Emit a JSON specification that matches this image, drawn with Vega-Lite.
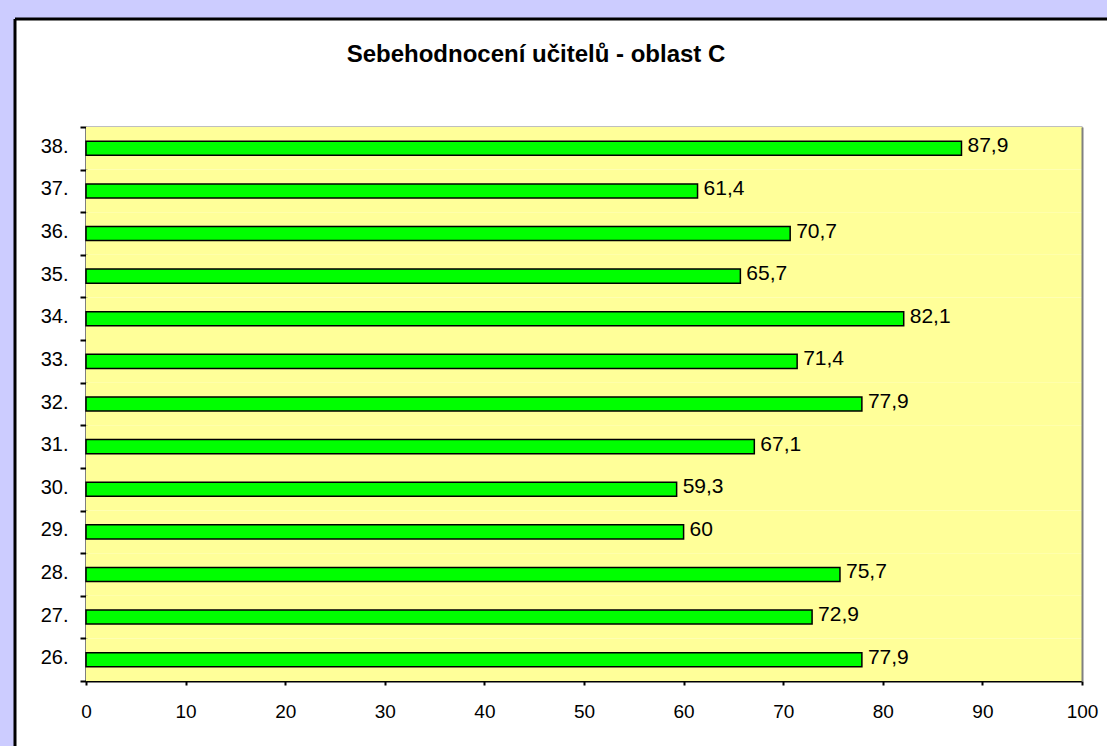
{
  "$schema": "https://vega.github.io/schema/vega-lite/v6.json",
  "usermeta": {"embedOptions": {"actions": false}},
  "autosize": "none",
  "width": 1092,
  "height": 727,
  "padding": {"left": 15, "top": 19, "right": 0, "bottom": 0},
  "background": "#ccccff",
  "title": {
    "text": "Sebehodnocení učitelů - oblast C",
    "font": "Liberation Sans",
    "fontSize": 24,
    "fontWeight": "bold",
    "color": "black",
    "anchor": "middle",
    "frame": "group",
    "baseline": "alphabetic",
    "offset": -77,
    "dx": -25
  },
  "config": {
    "locale": {"number": {"decimal": ",", "thousands": " ", "grouping": [3], "currency": ["", " Kč"]}},
    "view": {"fill": "white", "stroke": "black", "strokeWidth": 3, "strokeDash": [1092, 1819, 727, 0]},
    "font": "Liberation Sans"
  },
  "data": {
    "values": [
      {"polozka": "38.", "hodnota": 87.9},
      {"polozka": "37.", "hodnota": 61.4},
      {"polozka": "36.", "hodnota": 70.7},
      {"polozka": "35.", "hodnota": 65.7},
      {"polozka": "34.", "hodnota": 82.1},
      {"polozka": "33.", "hodnota": 71.4},
      {"polozka": "32.", "hodnota": 77.9},
      {"polozka": "31.", "hodnota": 67.1},
      {"polozka": "30.", "hodnota": 59.3},
      {"polozka": "29.", "hodnota": 60},
      {"polozka": "28.", "hodnota": 75.7},
      {"polozka": "27.", "hodnota": 72.9},
      {"polozka": "26.", "hodnota": 77.9}
    ]
  },
  "resolve": {"axis": {"x": "independent", "y": "independent"}},
  "layer": [
    {
      "mark": {"type": "rect", "fill": "#ffff99", "strokeWidth": 0},
      "encoding": {
        "y": {
          "field": "polozka", "type": "nominal", "sort": null,
          "scale": {"range": [108, 662], "paddingInner": 0, "paddingOuter": 0},
          "axis": {"orient": "right", "offset": -25, "domainColor": "#808080", "domainWidth": 2, "ticks": false, "labels": false, "title": null, "grid": false}
        },
        "x": {
          "datum": 0, "type": "quantitative",
          "scale": {"domain": [0, 100], "range": [71, 1067], "nice": false, "zero": true},
          "axis": {"orient": "top", "offset": -108, "domainColor": "#808080", "domainWidth": 2, "ticks": false, "labels": false, "title": null, "grid": false}
        },
        "x2": {"datum": 100}
      }
    },
    {
      "mark": {"type": "bar", "fill": "#00ff00", "stroke": "black", "strokeWidth": 1.5, "height": {"band": 0.33}},
      "encoding": {
        "y": {
          "field": "polozka", "type": "nominal", "sort": null,
          "axis": {"orient": "left", "offset": -71, "title": null, "grid": false, "domainColor": "black", "domainWidth": 2, "tickBand": "extent", "tickSize": 6, "tickWidth": 2, "tickColor": "black", "labelFontSize": 20, "labelColor": "black", "labelPadding": 12, "labelOffset": -2, "labelFont": "Liberation Sans"}
        },
        "x": {
          "field": "hodnota", "type": "quantitative",
          "axis": {"orient": "bottom", "offset": -65, "title": null, "grid": false, "values": [0, 10, 20, 30, 40, 50, 60, 70, 80, 90, 100], "domainColor": "black", "domainWidth": 2, "tickSize": 4, "tickWidth": 2, "tickColor": "black", "labelFontSize": 19, "labelColor": "black", "labelPadding": 17, "labelFont": "Liberation Sans", "labelFlush": false}
        }
      }
    },
    {
      "mark": {"type": "text", "align": "left", "baseline": "middle", "dx": 6, "dy": -2, "fontSize": 21, "font": "Liberation Sans", "color": "black"},
      "encoding": {
        "y": {"field": "polozka", "type": "nominal", "sort": null, "axis": null},
        "x": {"field": "hodnota", "type": "quantitative", "axis": null},
        "text": {"field": "hodnota", "type": "quantitative", "format": ".1~f"}
      }
    }
  ]
}
